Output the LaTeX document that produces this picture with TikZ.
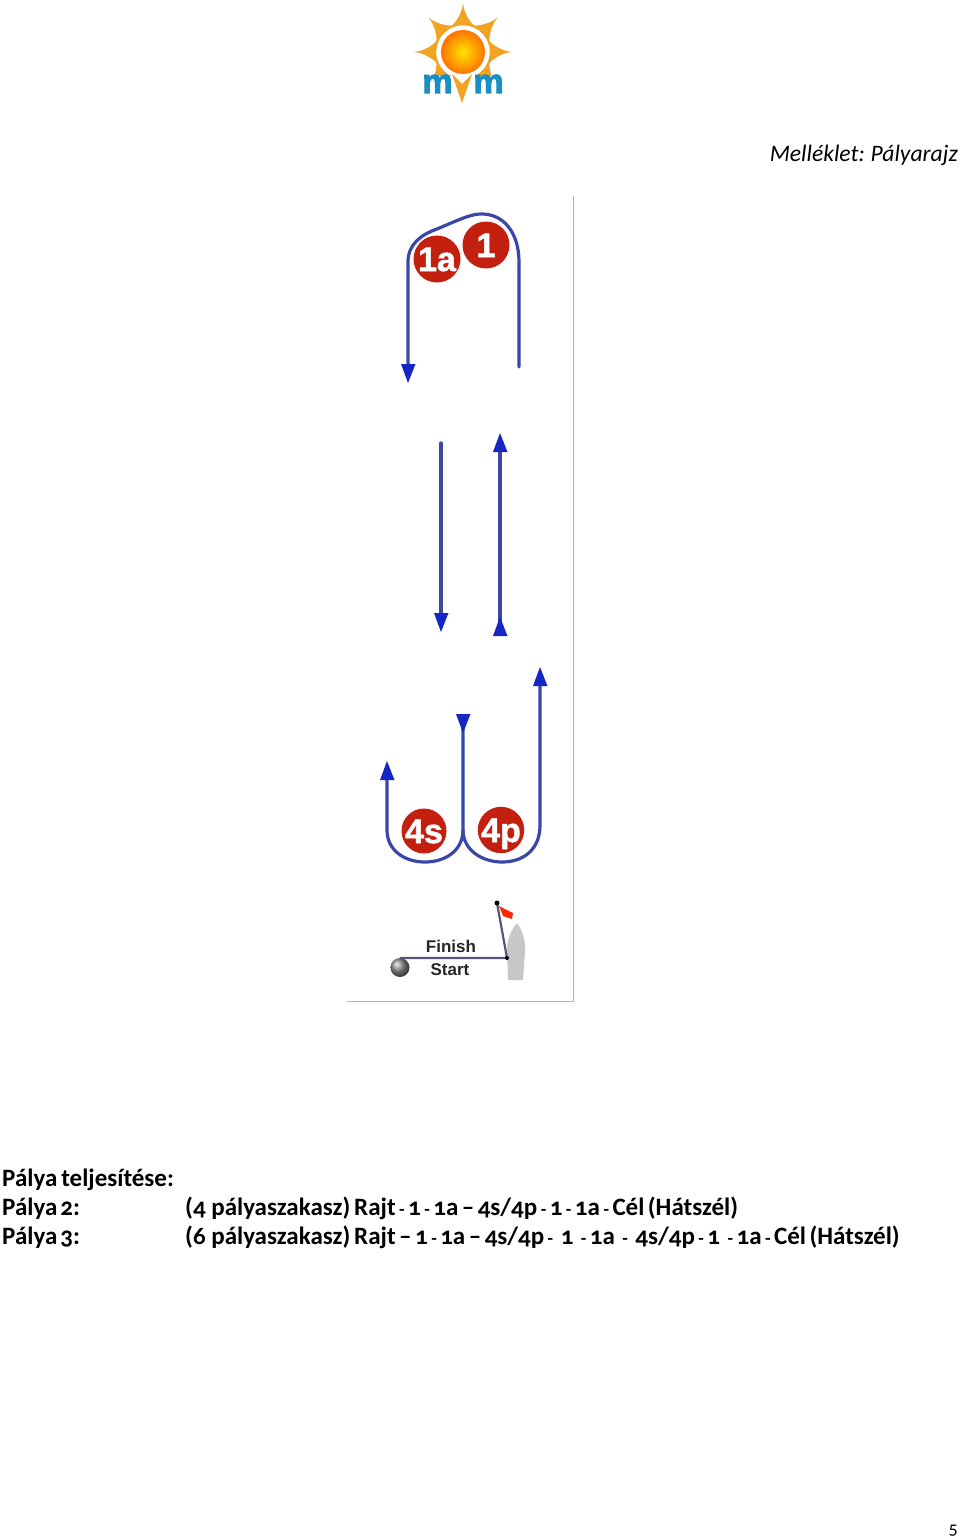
\documentclass[tikz,border=0pt]{standalone}
\usepackage{fontspec}
\setmainfont[Numbers=OldStyle]{Carlito}
\newfontfamily\labelfont{Liberation Sans}
\newfontfamily\fatfont[FakeBold=1.5]{Liberation Sans Bold}
\newfontfamily\logofont[FakeBold=3]{Liberation Sans Bold}
\usetikzlibrary{arrows.meta}
\definecolor{pathblue}{HTML}{3A46A8}
\definecolor{headblue}{HTML}{1626C4}
\definecolor{markred}{HTML}{C4200F}
\definecolor{sunorange}{HTML}{F2A321}
\definecolor{mvmblue}{HTML}{1B8FC4}
\definecolor{lineslate}{HTML}{55557A}
\newcommand{\gp}[1]{\hspace*{#1pt}}
\newcommand{\tsk}[1]{\spaceskip=#1pt\relax}
\newcommand{\hy}{{\fontsize{18}{20}\selectfont -}}
\tikzset{
  x=1pt,y=-1pt,
  course/.style={draw=pathblue,line width=3.2pt,line cap=round,line join=round},
  tiphead/.style={fill=headblue,draw=none},
  markball/.style={circle,fill=markred,draw=none,minimum size=47pt,inner sep=0pt,text=white,text height=24pt,text depth=0pt,font=\fatfont\fontsize{34}{34}\selectfont},
  txt/.style={anchor=base west,inner sep=0pt,font=\bfseries\fontsize{25}{28}\selectfont,text=black},
  lab/.style={inner sep=0pt,text=black!85,font=\labelfont\bfseries\fontsize{17}{17}\selectfont},
  logom/.style={anchor=base,inner sep=0pt,text=mvmblue,font=\logofont\fontsize{34}{34}\selectfont},
}
\begin{document}
\begin{tikzpicture}
\useasboundingbox (0,0) rectangle (960,1536);
\fill[white] (0,0) rectangle (960,1536);
% logo
\foreach \a in {0,45,...,315}{
  \fill[sunorange,rotate around={\a:(463,52)}] (463,3) .. controls (464,14) and (470,22) .. (477,29) .. controls (468,24) and (458,24) .. (450,28) .. controls (457,21) and (462,13) .. (463,3) -- cycle;
}
\draw[sunorange,line width=2pt] (463,52) circle (28);
\fill[white] (463,52) circle (25.5);
\shade[inner color=yellow!80!orange,outer color=orange!90!red] (463,52) circle (22);
\fill[white] (420,76) rectangle (506,100);
\node[logom] (logoA) at (437.5,93) {m};
\node[logom] (logoB) at (488.5,93) {m};
\fill[sunorange] (452,74) -- (462,103) -- (472,74) -- (462,84) -- cycle;
% heading
\node[anchor=base east,inner sep=0pt,font=\itshape\fontsize{23.6}{27}\selectfont] (melleklet) at (958,161) {\tsk{4}Melléklet: Pályarajz};
% frame
\draw[black!30,line width=1pt] (573.5,196) -- (573.5,1001.5) -- (347,1001.5);
% top marks
\node[markball] (m1a) at (437,259) {1a};
\node[markball] (m1) at (486,245) {1};
\coordinate (a0) at (519,367);
\coordinate (a1) at (408,368);
\draw[course] (a0) -- (519,262) .. controls (519,232) and (503,214) .. (482,214) .. controls (472,214) and (465,217) .. (437,229) .. controls (420,235) and (408,245) .. (408,262) -- (a1);
\fill[tiphead] (401,364) -- (415.5,364) -- (408,383) -- cycle;
% middle arrows
\coordinate (b0) at (441,443);
\coordinate (b1) at (441,618);
\draw[course] (b0) -- (b1);
\fill[tiphead] (434,613) -- (448.5,613) -- (441,632) -- cycle;
\coordinate (c0) at (500,622);
\coordinate (c1) at (500,448);
\draw[course] (c0) -- (c1);
\fill[tiphead] (493,452) -- (507.5,452) -- (500,433) -- cycle;
\fill[tiphead] (493,636) -- (507.5,636) -- (500,617) -- cycle;
% lower marks
\node[markball,minimum size=45pt] (m4s) at (424,831) {4s};
\node[markball,minimum size=45pt] (m4p) at (501,830) {4p};
\coordinate (d0) at (387,775);
\coordinate (d1) at (463,725);
\coordinate (d2) at (540,680);
\draw[course] (d0) -- (387,830) .. controls (387,850) and (404,862) .. (425,862) .. controls (446,862) and (463,850) .. (463,830) -- (d1);
\draw[course] (463,830) .. controls (463,850) and (482,862) .. (502,862) .. controls (523,862) and (540,850) .. (540,825) -- (d2);
\fill[tiphead] (380,780) -- (394.5,780) -- (387,761) -- cycle;
\fill[tiphead] (456,714) -- (470.5,714) -- (463,733) -- cycle;
\fill[tiphead] (533,686) -- (547.5,686) -- (540,667) -- cycle;
% start line
\fill[black!22] (508,980) -- (507,950) .. controls (507,938) and (512,929) .. (517,923) .. controls (522,930) and (526,940) .. (525,952) -- (523,980) -- cycle;
\shade[ball color=black!45] (400,967.5) circle (9.5);
\coordinate (s0) at (400,958);
\coordinate (s1) at (507,958);
\coordinate (s2) at (497,903);
\draw[lineslate,line width=2.2pt] (s0) -- (s1) -- (s2);
\fill[black] (s1) circle (2);
\fill[black] (s2) circle (2.5);
\fill[red!70!orange] (499,906) -- (513,913) -- (512,919) -- (503,916) -- cycle;
\node[lab] (finish) at (451,946) {Finish};
\node[lab] (start) at (450,970) {Start};
% text
\node[txt] (t1) at (2,1186) {\tsk{4}Pálya teljesítése:};
\node[txt] (t2) at (2,1215) {\tsk{3}Pálya 2:};
\node[txt] (t3) at (2,1244) {\tsk{3}Pálya 3:};
\node[txt] (t4) at (185,1215) {(4 pályaszakasz)};
\node[txt] (t5) at (354,1215) {\tsk{3.5}Rajt \hy{} 1 \hy{} 1a – 4s/4p \hy{} 1 \hy{} 1a \hy{} Cél (Hátszél)};
\node[txt] (t6) at (185,1244) {(6 pályaszakasz)};
\node[txt] (t7) at (354,1244) {\tsk{3.5}Rajt – 1 \hy{} 1a – 4s/4p \hy{} \gp{4}1 \gp{4}\hy{} 1a \gp{4}\hy{} \gp{4}4s/4p \hy{} 1 \gp{4}\hy{} 1a \hy{} Cél (Hátszél)};
\node[anchor=base east,inner sep=0pt,font=\fontsize{18}{20}\selectfont] (pg) at (958,1534) {5};
\end{tikzpicture}
\end{document}
